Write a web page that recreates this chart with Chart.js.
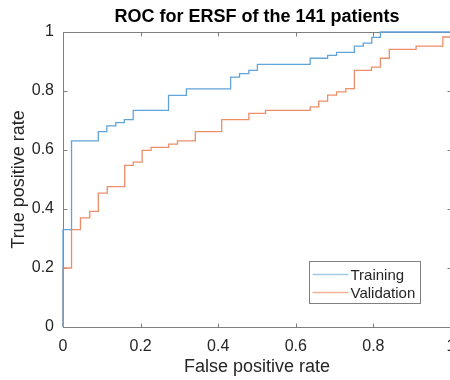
<!DOCTYPE html>
<html>
<head>
<meta charset="utf-8">
<script src="https://cdn.jsdelivr.net/npm/chart.js@4.4.0/dist/chart.umd.min.js"></script>
<style>
  html, body { margin: 0; padding: 0; background: #fff; overflow: hidden; }
  #wrap { width: 470px; height: 380px; }
</style>
</head>
<body>
<div id="wrap"><canvas id="roc" width="470" height="380"></canvas></div>
<script>
// ROC points (FPR, TPR)
const trainFpr = [0, 0, 0.022, 0.091, 0.113, 0.136, 0.158, 0.181, 0.272, 0.318, 0.432, 0.455, 0.479, 0.501, 0.637, 0.682, 0.705, 0.751, 0.774, 0.796, 0.818, 1];
const trainTpr = [0, 0.33, 0.631, 0.662, 0.682, 0.693, 0.703, 0.734, 0.785, 0.807, 0.847, 0.859, 0.870, 0.890, 0.911, 0.921, 0.931, 0.952, 0.962, 0.982, 1, 1];

const validFpr = [0, 0, 0.022, 0.045, 0.069, 0.091, 0.114, 0.159, 0.181, 0.204, 0.227, 0.272, 0.295, 0.341, 0.409, 0.479, 0.522, 0.637, 0.659, 0.682, 0.705, 0.729, 0.751, 0.795, 0.818, 0.841, 0.910, 0.979, 1];
const validTpr = [0, 0.2, 0.33, 0.37, 0.392, 0.454, 0.476, 0.548, 0.559, 0.599, 0.609, 0.620, 0.631, 0.662, 0.703, 0.724, 0.734, 0.746, 0.766, 0.786, 0.797, 0.808, 0.870, 0.881, 0.911, 0.941, 0.952, 0.983, 1];

const axisTicks = [0, 0.2, 0.4, 0.6, 0.8, 1];
const seriesNames = ['Training', 'Validation'];
const seriesColors = ['#62a3d9', '#ee8e69'];
const legendColors = ['#a3cbe9', '#f4b29a'];

Chart.defaults.font.family = "'Liberation Sans', Arial, sans-serif";
Chart.defaults.color = '#262626';

const toPoints = (xs, ys) => xs.map((x, i) => ({ x: x, y: ys[i] }));
const tickLabel = v => String(+Number(v).toFixed(1));

// Matlab-like box with inward ticks, drawn under the curves
const matlabAxes = {
    id: 'matlabAxes',
    beforeDatasetsDraw(chart) {
        const { ctx, chartArea: a, scales: { x, y } } = chart;
        const L = Math.round(a.left) + 0.5, R = Math.round(a.right) + 0.5;
        const T = Math.round(a.top) + 0.5, B = Math.round(a.bottom) + 0.5;
        ctx.save();
        ctx.strokeStyle = '#7f7f7f';
        ctx.lineWidth = 1;
        ctx.beginPath();
        x.ticks.forEach(t => {
            const px = Math.round(x.getPixelForValue(t.value)) + 0.5;
            ctx.moveTo(px, B); ctx.lineTo(px, B - 4);
            ctx.moveTo(px, T); ctx.lineTo(px, T + 4);
        });
        y.ticks.forEach(t => {
            const py = Math.round(y.getPixelForValue(t.value)) + 0.5;
            ctx.moveTo(L, py); ctx.lineTo(L + 4, py);
            ctx.moveTo(R, py); ctx.lineTo(R - 4, py);
        });
        ctx.stroke();
        ctx.strokeRect(L, T, R - L, B - T);
        ctx.restore();
    },
    // legend box in the lower right
    afterDatasetsDraw(chart) {
        const { ctx, chartArea: a } = chart;
        const lw = 111, lh = 42;
        const lx = Math.round(a.right) - 31 - lw + 0.5;
        const ly = Math.round(a.bottom) - 24 - lh + 0.5;
        ctx.save();
        ctx.fillStyle = '#fff';
        ctx.fillRect(lx, ly, lw, lh);
        ctx.strokeStyle = '#7f7f7f';
        ctx.lineWidth = 1;
        ctx.strokeRect(lx, ly, lw, lh);
        ctx.font = "15px 'Liberation Sans', Arial, sans-serif";
        ctx.textBaseline = 'middle';
        chart.data.datasets.forEach((ds, i) => {
            const cy = ly + 13 + i * 18;
            ctx.strokeStyle = legendColors[i];
            ctx.lineWidth = 1.5;
            ctx.beginPath();
            ctx.moveTo(lx + 3, cy); ctx.lineTo(lx + 39, cy);
            ctx.stroke();
            ctx.fillStyle = '#262626';
            ctx.fillText(ds.label, lx + 41, cy + 1);
        });
        ctx.restore();
    }
};

new Chart(document.getElementById('roc'), {
    type: 'line',
    data: {
        datasets: [
            { label: seriesNames[0], data: toPoints(trainFpr, trainTpr), borderColor: seriesColors[0], borderWidth: 1.3, stepped: 'before', pointRadius: 0, fill: false, clip: 2 },
            { label: seriesNames[1], data: toPoints(validFpr, validTpr), borderColor: seriesColors[1], borderWidth: 1.3, stepped: 'before', pointRadius: 0, fill: false, clip: 2 }
        ]
    },
    options: {
        responsive: false,
        animation: false,
        layout: { padding: { left: 0, right: 19, top: 0, bottom: 0 } },
        plugins: {
            legend: { display: false },
            tooltip: { enabled: false },
            title: {
                display: true,
                text: 'ROC for ERSF of the 141 patients',
                fullSize: false,
                color: '#000',
                font: { size: 18, weight: 'bold' },
                padding: { top: 6, bottom: 4.4 }
            }
        },
        scales: {
            x: {
                type: 'linear', min: 0, max: 1,
                afterBuildTicks: s => { s.ticks = axisTicks.map(v => ({ value: v })); },
                afterFit: s => { s.height = 53; },
                ticks: { font: { size: 16 }, color: '#262626', padding: 10, maxRotation: 0, callback: tickLabel },
                grid: { display: false, drawTicks: false },
                border: { display: false },
                title: { display: true, text: 'False positive rate', font: { size: 18 }, color: '#262626', padding: { top: 0, bottom: 2 } }
            },
            y: {
                min: 0, max: 1,
                afterBuildTicks: s => { s.ticks = axisTicks.map(v => ({ value: v })); },
                afterFit: s => { s.width = 63; },
                ticks: { font: { size: 16 }, color: '#262626', padding: 9, callback: tickLabel },
                grid: { display: false, drawTicks: false },
                border: { display: false },
                title: { display: true, text: 'True positive rate', font: { size: 18 }, color: '#262626', padding: { top: 8, bottom: 0 } }
            }
        }
    },
    plugins: [matlabAxes]
});
</script>
</body>
</html>
